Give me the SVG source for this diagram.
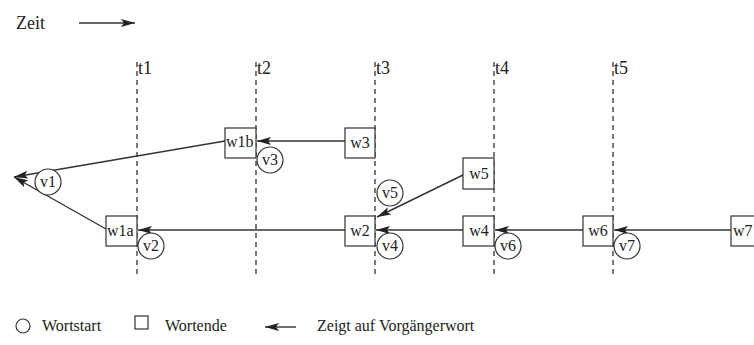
<svg xmlns="http://www.w3.org/2000/svg" width="754" height="345" viewBox="0 0 754 345">
<defs>
<marker id="ah" markerWidth="15" markerHeight="9" refX="14" refY="4.5" orient="auto" markerUnits="userSpaceOnUse">
<path d="M0,0.5 L14,4.5 L0,8.5 L3,4.5 Z" fill="#222"/>
</marker>
<style>
.t{font-family:"Liberation Serif","Times New Roman",serif;fill:#222}
.lbl{font-size:16px}
.leg{font-size:16px}
.tl{font-size:18px}
.box{fill:#fff;stroke:#333;stroke-width:1.2}
.circ{fill:#fff;stroke:#333;stroke-width:1.2}
.dash{stroke:#333;stroke-width:1.3;stroke-dasharray:5,4;fill:none}
.edge{stroke:#333;stroke-width:1.4;fill:none;marker-end:url(#ah)}
</style>
</defs>
<rect width="754" height="345" fill="#fff"/>

<text class="t tl" x="16" y="29">Zeit</text>
<line class="edge" x1="79" y1="23" x2="135" y2="23"/>

<g id="timelines">
<line class="dash" x1="137" y1="62" x2="137" y2="276"/>
<line class="dash" x1="256" y1="62" x2="256" y2="276"/>
<line class="dash" x1="375" y1="62" x2="375" y2="276"/>
<line class="dash" x1="494" y1="62" x2="494" y2="276"/>
<line class="dash" x1="613" y1="62" x2="613" y2="276"/>
<text class="t tl" x="138" y="74">t1</text>
<text class="t tl" x="257" y="74">t2</text>
<text class="t tl" x="376" y="74">t3</text>
<text class="t tl" x="495" y="74">t4</text>
<text class="t tl" x="614" y="74">t5</text>
</g>

<g id="connectors">
<line class="edge" x1="225" y1="141" x2="14" y2="177"/>
<line class="edge" x1="106" y1="229" x2="14" y2="177"/>
<line class="edge" x1="345" y1="141" x2="257" y2="141"/>
<line class="edge" x1="345" y1="230" x2="138" y2="230"/>
<line class="edge" x1="463" y1="230" x2="376" y2="230"/>
<line class="edge" x1="463" y1="175" x2="377" y2="217"/>
<line class="edge" x1="583" y1="230" x2="495" y2="230"/>
<line class="edge" x1="731" y1="230" x2="614" y2="230"/>
</g>

<g id="v1"><circle class="circ" cx="48" cy="182" r="13"/><text class="t lbl" x="48" y="187" text-anchor="middle">v1</text></g>
<g id="w1a"><rect class="box" x="106" y="216" width="31" height="30"/><text class="t lbl" x="107" y="236">w1a</text></g>
<g id="v2"><circle class="circ" cx="151" cy="246" r="13"/><text class="t lbl" x="151" y="251" text-anchor="middle">v2</text></g>
<g id="w1b"><rect class="box" x="225" y="128" width="31" height="30"/><text class="t lbl" x="226" y="147">w1b</text></g>
<g id="v3"><circle class="circ" cx="270" cy="160" r="13"/><text class="t lbl" x="270" y="165" text-anchor="middle">v3</text></g>
<g id="w3"><rect class="box" x="345" y="128" width="30" height="30"/><text class="t lbl" x="360" y="148" text-anchor="middle">w3</text></g>
<g id="w5"><rect class="box" x="463" y="158" width="31" height="31"/><text class="t lbl" x="479" y="179" text-anchor="middle">w5</text></g>
<g id="v5"><circle class="circ" cx="390" cy="193" r="13"/><text class="t lbl" x="390" y="198" text-anchor="middle">v5</text></g>
<g id="w2"><rect class="box" x="345" y="216" width="30" height="30"/><text class="t lbl" x="360" y="236" text-anchor="middle">w2</text></g>
<g id="v4"><circle class="circ" cx="390" cy="246" r="13"/><text class="t lbl" x="390" y="251" text-anchor="middle">v4</text></g>
<g id="w4"><rect class="box" x="463" y="216" width="31" height="30"/><text class="t lbl" x="479" y="236" text-anchor="middle">w4</text></g>
<g id="v6"><circle class="circ" cx="508" cy="246" r="13"/><text class="t lbl" x="508" y="251" text-anchor="middle">v6</text></g>
<g id="w6"><rect class="box" x="583" y="216" width="30" height="30"/><text class="t lbl" x="598" y="236" text-anchor="middle">w6</text></g>
<g id="v7"><circle class="circ" cx="627" cy="246" r="13"/><text class="t lbl" x="627" y="251" text-anchor="middle">v7</text></g>
<g id="w7"><rect class="box" x="731" y="216" width="31" height="30"/><text class="t lbl" x="733" y="236">w7</text></g>

<g id="legend">
<circle class="circ" cx="23" cy="326" r="7"/>
<text class="t leg" x="42" y="331">Wortstart</text>
<rect class="box" x="135" y="316" width="13" height="13"/>
<text class="t leg" x="165" y="331">Wortende</text>
<line class="edge" x1="296" y1="327" x2="265" y2="327"/>
<text class="t leg" x="317" y="331">Zeigt auf Vorgängerwort</text>
</g>
</svg>
